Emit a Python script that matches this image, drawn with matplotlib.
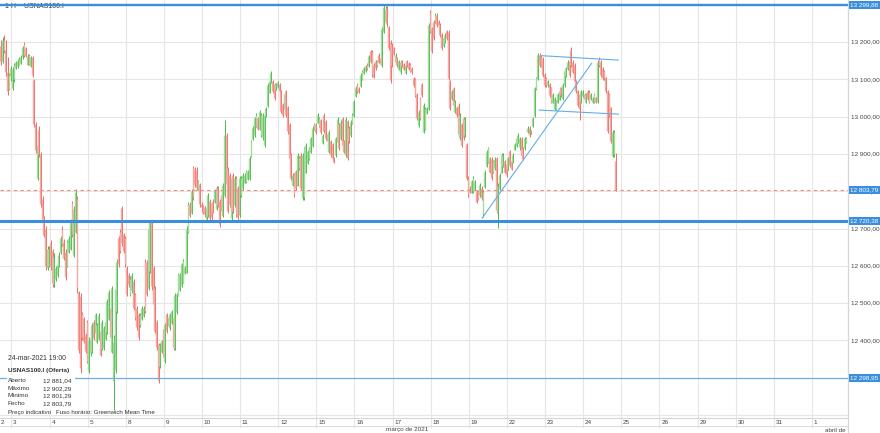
import numpy as np
import matplotlib.pyplot as plt
from matplotlib.patches import Rectangle
from matplotlib.lines import Line2D

plt.rcParams['font.family'] = ['Liberation Sans', 'DejaVu Sans']

# hourly OHLC, USNAS100.I, 2 Mar 2021 (partial) .. 24 Mar 2021 19:00
opens = [
    13190, 13150, 13205, 13180, 13120, 13075, 13110,
    13078, 13100, 13132, 13136, 13140, 13145, 13160, 13195, 13185, 13140, 13165, 13137, 13160, 13098, 12980, 12835, 12965, 12900, 12780, 12730, 12700, 12595, 12600,
    12660, 12640, 12550, 12565, 12575, 12600, 12636, 12700, 12665, 12638, 12600, 12636, 12645, 12768, 12630, 12690, 12780, 12530, 12520, 12470, 12460, 12415, 12450,
    12318, 12365, 12370, 12450, 12420, 12395, 12405, 12425, 12378, 12380, 12404, 12422, 12458, 12488, 12370, 12290, 12320, 12478, 12675, 12690, 12755, 12685, 12675,
    12595, 12575, 12525, 12535, 12560, 12525, 12488, 12470, 12440, 12458, 12465, 12610, 12610, 12540, 12585, 12718, 12595, 12540, 12450, 12390, 12330, 12368, 12430,
    12345, 12470, 12438, 12432, 12447, 12460, 12380, 12475, 12520, 12535, 12548, 12555, 12580, 12582, 12690, 12765, 12742, 12862, 12860, 12858, 12805, 12820, 12765,
    12760, 12758, 12727, 12735, 12775, 12768, 12772, 12772, 12752, 12810, 12775, 12790, 12735, 12790, 12950, 12862, 12845, 12728, 12845, 12762, 12836, 12810, 12736,
    12790, 12808, 12823, 12824, 12832, 12833, 12895, 12940, 12950, 12976, 12998, 12968, 12950, 12945, 12925, 13003, 13030, 13065, 13092, 13096, 13088, 13074, 13080,
    13088, 13070, 13035, 13020, 13070, 13025, 12980, 12900, 12816, 12846, 12855, 12815, 12862, 12898, 12782, 12785, 12850, 12876, 12886, 12905, 12922, 12966, 12980,
    12984, 12976, 12990, 12930, 13005, 12988, 12954, 12906, 12936, 12927, 12890, 12897, 12932, 12980, 12940, 12996, 12936, 12897, 12988, 12970, 12950, 12982, 13002,
    13056, 13088, 13078, 13083, 13100, 13118, 13122, 13140, 13136, 13176, 13175, 13140, 13150, 13136, 13166, 13158, 13138, 13228, 13255, 13292, 13240, 13200, 13195,
    13186, 13146, 13160, 13128, 13120, 13150, 13141, 13118, 13150, 13145, 13141, 13132, 13105, 13100, 13060, 12978, 13050, 13088, 12960, 12968, 13010, 13020, 13282,
    13238, 13255, 13255, 13274, 13258, 13248, 13222, 13190, 13198, 13230, 13228, 13096, 13048, 13078, 13012, 13025, 13032, 12942, 12980, 12996, 12950, 12926, 12836,
    12808, 12796, 12800, 12806, 12802, 12800, 12790, 12810, 12740, 12812, 12868, 12878, 12890, 12888, 12852, 12862, 12890, 12745, 12805, 12850, 12868, 12882, 12872,
    12860, 12908, 12882, 12875, 12912, 12922, 12930, 12918, 12944, 12915, 12915, 12930, 12958, 12970, 12958, 12974, 13002, 13075, 13102, 13166, 13160, 13158, 13115,
    13106, 13085, 13088, 13080, 13038, 13022, 13021, 13038, 13046, 13080, 13048, 13085, 13110, 13128, 13150, 13180, 13148, 13140, 13097, 13072, 13060, 13040, 13056,
    13062, 13040, 13068, 13066, 13048, 13040, 13040, 13052, 13040, 13155, 13148, 13130, 13122, 13106, 13070, 13060, 13025, 12895, 12900, 12881.04,
]
highs = [
    13205, 13215, 13220, 13205, 13160, 13118, 13135,
    13134, 13143, 13150, 13155, 13160, 13165, 13190, 13200, 13188, 13168, 13168, 13162, 13163, 13100, 12985, 12930, 12975, 12905, 12788, 12735, 12708, 12652, 12652,
    12670, 12645, 12634, 12600, 12607, 12636, 12680, 12707, 12672, 12645, 12670, 12680, 12725, 12775, 12760, 12806, 12788, 12532, 12527, 12475, 12464, 12420, 12456,
    12410, 12410, 12447, 12456, 12474, 12446, 12473, 12430, 12456, 12438, 12456, 12510, 12536, 12492, 12545, 12414, 12545, 12618, 12681, 12698, 12760, 12688, 12680,
    12600, 12580, 12572, 12580, 12564, 12527, 12491, 12473, 12473, 12491, 12491, 12618, 12616, 12706, 12724, 12724, 12600, 12546, 12456, 12394, 12393, 12402, 12438,
    12447, 12474, 12465, 12473, 12482, 12466, 12528, 12528, 12582, 12582, 12608, 12617, 12600, 12706, 12770, 12770, 12806, 12867, 12866, 12866, 12831, 12823, 12770,
    12762, 12760, 12760, 12795, 12778, 12770, 12778, 12805, 12813, 12813, 12778, 12795, 12823, 12991, 12957, 12866, 12848, 12840, 12848, 12840, 12840, 12813, 12840,
    12840, 12849, 12849, 12858, 12858, 12894, 12938, 12974, 13000, 13010, 13000, 13018, 13010, 13010, 13010, 13027, 13090, 13099, 13122, 13099, 13090, 13090, 13095,
    13090, 13073, 13037, 13063, 13072, 13028, 12983, 12903, 12849, 12849, 12858, 12902, 12894, 12902, 12903, 12920, 12929, 12911, 12920, 12947, 12975, 12983, 12983,
    13010, 13000, 12993, 12955, 13010, 12992, 12956, 12965, 12938, 12929, 12893, 12947, 13000, 12983, 12991, 13000, 12938, 13000, 12991, 12974, 12991, 13009, 13046,
    13082, 13090, 13081, 13117, 13126, 13134, 13139, 13143, 13166, 13179, 13179, 13143, 13152, 13152, 13170, 13161, 13242, 13300, 13296, 13296, 13243, 13207, 13197,
    13188, 13170, 13161, 13152, 13152, 13152, 13143, 13143, 13152, 13148, 13143, 13134, 13108, 13103, 13063, 13018, 13054, 13090, 13036, 13027, 13027, 13251, 13287,
    13242, 13260, 13278, 13278, 13260, 13251, 13224, 13215, 13224, 13233, 13233, 13099, 13072, 13081, 13045, 13027, 13036, 13009, 12983, 13000, 13000, 12929, 12840,
    12813, 12831, 12840, 12831, 12804, 12804, 12822, 12813, 12804, 12857, 12911, 12920, 12893, 12893, 12884, 12893, 12893, 12822, 12848, 12902, 12902, 12884, 12875,
    12893, 12911, 12884, 12902, 12929, 12947, 12956, 12947, 12947, 12920, 12947, 12947, 12974, 12974, 12965, 13000, 13081, 13108, 13170, 13170, 13166, 13161, 13117,
    13108, 13099, 13090, 13081, 13063, 13054, 13045, 13063, 13072, 13081, 13090, 13126, 13134, 13152, 13152, 13188, 13152, 13143, 13099, 13072, 13063, 13072, 13072,
    13063, 13063, 13072, 13072, 13063, 13054, 13063, 13054, 13152, 13161, 13152, 13134, 13126, 13108, 13072, 13063, 13027, 12965, 12965, 12902.29,
]
lows = [
    13140, 13145, 13170, 13110, 13058, 13072, 13095,
    13072, 13094, 13128, 13132, 13138, 13142, 13155, 13160, 13160, 13138, 13138, 13134, 13108, 12973, 12902, 12830, 12893, 12759, 12714, 12678, 12589, 12590, 12597,
    12589, 12544, 12544, 12560, 12570, 12596, 12632, 12652, 12616, 12562, 12596, 12634, 12642, 12678, 12625, 12687, 12527, 12366, 12312, 12401, 12392, 12366, 12339,
    12312, 12357, 12365, 12401, 12418, 12392, 12401, 12357, 12374, 12374, 12400, 12418, 12455, 12401, 12366, 12213, 12312, 12473, 12598, 12634, 12652, 12634, 12598,
    12518, 12544, 12518, 12527, 12482, 12455, 12428, 12401, 12437, 12455, 12462, 12473, 12518, 12536, 12580, 12536, 12491, 12419, 12375, 12285, 12325, 12365, 12348,
    12339, 12419, 12435, 12428, 12445, 12375, 12375, 12472, 12518, 12533, 12544, 12553, 12578, 12580, 12687, 12732, 12740, 12777, 12812, 12803, 12803, 12759, 12745,
    12740, 12732, 12723, 12732, 12723, 12723, 12741, 12768, 12750, 12759, 12705, 12741, 12732, 12786, 12813, 12741, 12759, 12723, 12741, 12759, 12732, 12723, 12732,
    12786, 12804, 12821, 12821, 12830, 12830, 12893, 12938, 12946, 12973, 12964, 12964, 12946, 12938, 12920, 13000, 13027, 13063, 13090, 13063, 13045, 13072, 13078,
    13063, 13009, 13000, 13018, 13000, 12955, 12884, 12830, 12813, 12786, 12804, 12813, 12857, 12804, 12777, 12777, 12848, 12873, 12884, 12902, 12920, 12964, 12955,
    12982, 12973, 12955, 12928, 12956, 12938, 12929, 12902, 12893, 12884, 12875, 12893, 12929, 12911, 12938, 12920, 12902, 12893, 12884, 12929, 12947, 12980, 13000,
    13054, 13063, 13063, 13081, 13098, 13116, 13120, 13125, 13134, 13143, 13108, 13103, 13125, 13134, 13143, 13139, 13134, 13224, 13251, 13242, 13179, 13090, 13134,
    13166, 13143, 13134, 13125, 13116, 13134, 13125, 13116, 13134, 13125, 13121, 13116, 13081, 13054, 12991, 12973, 12991, 13054, 12956, 12964, 13008, 13018, 13224,
    13170, 13206, 13251, 13242, 13242, 13215, 13179, 13188, 13197, 13206, 13099, 13018, 13045, 13027, 13009, 13000, 12947, 12938, 12920, 12938, 12947, 12830, 12786,
    12795, 12795, 12795, 12804, 12768, 12777, 12786, 12777, 12732, 12810, 12866, 12875, 12848, 12830, 12848, 12857, 12741, 12701, 12804, 12848, 12866, 12848, 12839,
    12857, 12866, 12857, 12875, 12911, 12920, 12929, 12911, 12893, 12884, 12911, 12929, 12956, 12947, 12955, 12972, 13000, 13072, 13099, 13134, 13134, 13108, 13081,
    13081, 13081, 13054, 13036, 13036, 13018, 13018, 13036, 13045, 13054, 13045, 13081, 13108, 13126, 13108, 13134, 13117, 13090, 13063, 13027, 12991, 13036, 13054,
    13045, 13036, 13045, 13036, 13045, 13036, 13036, 13036, 13036, 13134, 13108, 13099, 13099, 13063, 12956, 13000, 12929, 12893, 12893, 12801.29,
]
closes = [
    13150, 13205, 13180, 13120, 13070, 13112, 13130,
    13128, 13138, 13146, 13150, 13156, 13160, 13186, 13165, 13162, 13164, 13142, 13160, 13112, 12980, 12910, 12925, 12900, 12765, 12720, 12684, 12600, 12645, 12645,
    12600, 12555, 12625, 12595, 12603, 12630, 12675, 12658, 12622, 12570, 12665, 12676, 12720, 12685, 12752, 12798, 12540, 12375, 12325, 12410, 12398, 12372, 12345,
    12402, 12405, 12440, 12406, 12470, 12440, 12468, 12362, 12450, 12432, 12450, 12505, 12530, 12408, 12540, 12395, 12538, 12610, 12605, 12640, 12660, 12640, 12605,
    12525, 12550, 12566, 12575, 12488, 12462, 12435, 12408, 12468, 12486, 12488, 12480, 12525, 12700, 12718, 12545, 12498, 12425, 12382, 12295, 12388, 12398, 12355,
    12440, 12425, 12462, 12470, 12478, 12382, 12522, 12524, 12578, 12578, 12604, 12612, 12597, 12700, 12765, 12736, 12800, 12785, 12818, 12810, 12828, 12765, 12758,
    12745, 12738, 12755, 12790, 12728, 12730, 12745, 12800, 12808, 12764, 12712, 12746, 12818, 12950, 12820, 12748, 12765, 12835, 12748, 12835, 12738, 12730, 12835,
    12836, 12845, 12845, 12854, 12855, 12890, 12935, 12970, 12996, 13005, 12968, 13014, 13005, 13004, 13005, 13024, 13086, 13095, 13118, 13068, 13050, 13088, 13092,
    13068, 13015, 13005, 13060, 13006, 12962, 12890, 12836, 12845, 12792, 12810, 12898, 12890, 12810, 12898, 12915, 12925, 12908, 12916, 12943, 12970, 12980, 12958,
    13006, 12996, 12960, 12952, 12962, 12944, 12934, 12960, 12898, 12890, 12878, 12942, 12995, 12916, 12986, 12925, 12906, 12995, 12890, 12934, 12986, 13005, 13042,
    13078, 13068, 13066, 13113, 13122, 13131, 13136, 13128, 13162, 13148, 13114, 13108, 13130, 13150, 13147, 13142, 13236, 13294, 13290, 13248, 13185, 13098, 13140,
    13169, 13167, 13138, 13149, 13148, 13137, 13128, 13140, 13137, 13128, 13124, 13119, 13084, 13058, 12997, 13014, 12996, 13058, 13032, 13022, 13024, 13245, 13230,
    13176, 13212, 13274, 13246, 13245, 13220, 13184, 13212, 13220, 13210, 13105, 13024, 13068, 13032, 13042, 13004, 12954, 13004, 12925, 12944, 12995, 12836, 12792,
    12798, 12828, 12836, 12828, 12772, 12780, 12818, 12782, 12798, 12852, 12906, 12916, 12852, 12836, 12880, 12888, 12750, 12815, 12845, 12898, 12898, 12852, 12843,
    12889, 12870, 12860, 12898, 12926, 12944, 12952, 12944, 12898, 12888, 12944, 12944, 12971, 12950, 12963, 12996, 13076, 13104, 13165, 13138, 13137, 13112, 13085,
    13084, 13096, 13058, 13040, 13060, 13050, 13042, 13060, 13068, 13058, 13086, 13122, 13131, 13148, 13112, 13140, 13121, 13095, 13068, 13032, 13020, 13068, 13068,
    13048, 13060, 13048, 13040, 13060, 13051, 13060, 13040, 13146, 13138, 13112, 13104, 13103, 13068, 12962, 13006, 12935, 12960, 12958, 12803.79,
]

day_labels = ['3', '4', '5', '8', '9', '10', '11', '12', '15', '16', '17', '18', '19',
              '22', '23', '24', '25', '26', '29', '30', '31', '1']
first_day_bar = 7      # bars of 2 Mar before 3 Mar 00:00
bars_per_day = 23

level_top = 13299.88
level_mid = 12720.38
level_low = 12298.95
last_price = 12803.79
price_ticks = [12300, 12400, 12500, 12600, 12700, 12800, 12900, 13000, 13100, 13200]

# drawn objects (bar index, price)
trend_line = [(290.5, 12728), (356.7, 13144)]
channel_top = [(325.9, 13164), (372.7, 13152)]
channel_bottom = [(324.9, 13018), (372.7, 13007)]

info_rows = [('Aberto', 12881.04), ('Máximo', 12902.29), ('Mínimo', 12801.29), ('Fecho', 12803.79)]


def fmt(v):
    return f"{v:,.2f}".replace(',', ' ').replace('.', ',')


W, H = 880, 433
AX_W, AX_H = 848, 418
fig = plt.figure(figsize=(W / 100, H / 100), dpi=100)
ax = fig.add_axes([0, (H - AX_H) / H, AX_W / W, AX_H / H])

o = np.array(opens)
h = np.array(highs)
l = np.array(lows)
c = np.array(closes)
x = np.arange(len(c))
up = c >= o

ax.set_xlim(-0.4, 511.3)
ax.set_ylim(12191.7, 13313.3)

grid_col = '#e6e6e6'
for yv in range(12200, 13400, 100):
    ax.axhline(yv, color=grid_col, lw=0.8, zorder=0)
day_pos = [first_day_bar + bars_per_day * k for k in range(len(day_labels))]
tr = ax.get_xaxis_transform()
for p, lab in zip(day_pos, day_labels):
    ax.plot([p - 0.5, p - 0.5], [-9 / AX_H, 1], color=grid_col, lw=0.8, transform=tr,
            clip_on=False, zorder=0)
    ax.text(p + 0.6, -2 / AX_H, lab, transform=tr, fontsize=4.6, color='#444444',
            ha='left', va='top')
ax.text(0.3, -2 / AX_H, '2', transform=tr, fontsize=4.6, color='#444444', ha='left', va='top')

# candles
dark_g, light_g = '#46b946', '#a3dc9c'
dark_r, light_r = '#ee6b62', '#f5aba5'
ax.vlines(x[up] + 0.3, l[up], h[up], colors=dark_g, lw=0.7, zorder=3)
ax.vlines(x[~up] + 0.3, l[~up], h[~up], colors=dark_r, lw=0.7, zorder=3)
ax.vlines(x[up] - 0.2, o[up], c[up], colors=light_g, lw=1.0, zorder=4)
ax.vlines(x[~up] - 0.2, c[~up], o[~up], colors=light_r, lw=1.0, zorder=4)

# levels
blue = '#3a8fdc'
ax.axhline(level_top, color=blue, lw=1.7, zorder=5)
ax.axhline(level_mid, color=blue, lw=2.2, zorder=5)
ax.axhline(level_low, color='#6cb0ea', lw=0.9, zorder=5)
ax.axhline(last_price, color='#f28a84', lw=0.8, ls=(0, (3, 3)), zorder=5)

line_col = '#62aee6'
for seg in (trend_line, channel_top, channel_bottom):
    ax.plot([seg[0][0], seg[1][0]], [seg[0][1], seg[1][1]], color=line_col, lw=0.8, zorder=6)

for s in ('top', 'left'):
    ax.spines[s].set_visible(False)
for s in ('right', 'bottom'):
    ax.spines[s].set_color('#d6d6d6')
    ax.spines[s].set_linewidth(0.8)
ax.set_xticks([])
ax.set_yticks([])

# price scale
ytr = ax.get_yaxis_transform()
for t in price_ticks:
    ax.text(1 + 3 / AX_W, t, fmt(t), transform=ytr, fontsize=4.6, color='#444444',
            ha='left', va='center', clip_on=False)
for lv in (level_top, last_price, level_mid, level_low):
    ax.text(1 + 2 / AX_W, lv, fmt(lv), transform=ytr, fontsize=4.6, color='white',
            ha='left', va='center', clip_on=False, zorder=10,
            bbox=dict(boxstyle='square,pad=0.25', fc=blue, ec='none'))

fig.add_artist(Line2D([0, AX_W / W], [(H - 426) / H] * 2, color='#dcdcdc', lw=0.8))
fig.add_artist(Line2D([AX_W / W] * 2, [0, 1], color='#d6d6d6', lw=0.8))
fig.text(407 / W, (H - 430) / H, 'março de 2021', fontsize=4.6, color='#444444',
         ha='center', va='center')
fig.text(846 / W, (H - 430) / H, 'abril de', fontsize=4.6, color='#444444',
         ha='right', va='center')

# header and info block
ax.text(5 / AX_W, 1 - 6 / AX_H, '1 H    USNAS100.I', transform=ax.transAxes,
        fontsize=5, color='#333333', ha='left', va='center')
ax.add_patch(Rectangle((7 / AX_W, (AX_H - 409) / AX_H), 68 / AX_W, 34 / AX_H,
                       transform=ax.transAxes, fc='white', ec='none', zorder=7))
ax.text(8 / AX_W, 1 - 358 / AX_H, '24-mar-2021 19:00', transform=ax.transAxes,
        fontsize=4.9, color='#333333', va='center', zorder=8)
ax.text(8 / AX_W, 1 - 370.5 / AX_H, 'USNAS100.I (Oferta)', transform=ax.transAxes,
        fontsize=4.6, color='#333333', fontweight='bold', va='center', zorder=8)
for k, (name, val) in enumerate(info_rows):
    yy = 1 - (380.7 + 7.6 * k) / AX_H
    ax.text(8 / AX_W, yy, name, transform=ax.transAxes, fontsize=4.6, color='#333333',
            va='center', zorder=8)
    ax.text(42.5 / AX_W, yy, fmt(val), transform=ax.transAxes, fontsize=4.6,
            color='#333333', va='center', zorder=8)
ax.text(8 / AX_W, 1 - 412.7 / AX_H, 'Preço indicativo', transform=ax.transAxes,
        fontsize=4.4, color='#333333', va='center', zorder=8)
ax.text(56 / AX_W, 1 - 412.7 / AX_H, 'Fuso horário: Greenwich Mean Time',
        transform=ax.transAxes, fontsize=4.4, color='#333333', va='center', zorder=8)

fig.savefig('out.png', dpi=100)
